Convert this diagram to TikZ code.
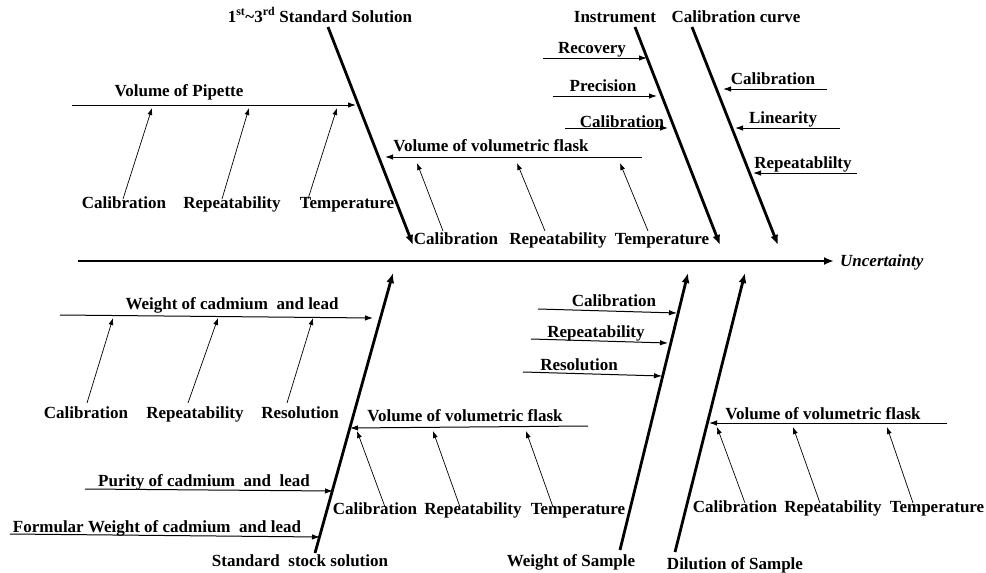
\documentclass[tikz,border=0pt]{standalone}
\usepackage{fontspec}
\setmainfont{Liberation Serif}
\usetikzlibrary{arrows.meta,positioning}
\tikzstyle{bone} = [line width=2.8pt, -{Latex[length=10pt,width=8pt]}]
\tikzstyle{cause} = [line width=1pt, -{Latex[length=8pt,width=5.5pt]}]
\tikzstyle{sub} = [line width=0.7pt, -{Latex[length=7pt,width=5pt]}]
\tikzstyle{lab} = [font=\bfseries\fontsize{17}{19}\selectfont, inner sep=0pt, text height=11.5pt, text depth=1pt]
\tikzstyle{pt} = [coordinate]

\begin{document}
\begin{tikzpicture}[x=1pt, y=-1pt]
  \useasboundingbox (0,0) rectangle (986,573);

  % spine
  \node [pt] (tail) at (78,261) {};
  \node [pt] (head) at (834,261) {};
  \draw [bone] (tail) -- (head);
  \node [lab, font=\bfseries\itshape\fontsize{17}{19}\selectfont, right=6pt of head] (effect) {Uncertainty};

  % main bones, upper side
  \node [lab] (std) at (320,17) {1\textsuperscript{st}\textasciitilde3\textsuperscript{rd} Standard Solution};
  \node [lab] (ins) at (615,17) {Instrument};
  \node [lab] (cc) at (736,17) {Calibration curve};
  \node [pt] (stdA) at (328,27) {};  \node [pt] (stdB) at (413,245) {};
  \node [pt] (insA) at (635,27) {};  \node [pt] (insB) at (720,245) {};
  \node [pt] (ccA) at (692,27) {};   \node [pt] (ccB) at (778,245) {};
  \draw [bone] (stdA) -- (stdB);
  \draw [bone] (insA) -- (insB);
  \draw [bone] (ccA) -- (ccB);

  % main bones, lower side
  \node [lab] (stk) at (300,561) {Standard\ \ stock solution};
  \node [lab] (ws) at (571,561) {Weight of Sample};
  \node [lab] (dil) at (735,564) {Dilution of Sample};
  \node [pt] (stkA) at (315,553) {};  \node [pt] (stkB) at (393,273) {};
  \node [pt] (wsA) at (620,550) {};   \node [pt] (wsB) at (688,273) {};
  \node [pt] (dilA) at (675,552) {};  \node [pt] (dilB) at (745,273) {};
  \draw [bone] (stkA) -- (stkB);
  \draw [bone] (wsA) -- (wsB);
  \draw [bone] (dilA) -- (dilB);

  % volume of pipette
  \node [lab] (pip) at (179,91) {Volume of Pipette};
  \node [pt] (pipA) at (72,105) {};  \node [pt] (pipB) at (356,105) {};
  \draw [cause] (pipA) -- (pipB);
  \node [lab] (pip1) at (124,203) {Calibration};
  \node [lab] (pip2) at (232,203) {Repeatability};
  \node [lab] (pip3) at (347,203) {Temperature};
  \node [pt] (pip1a) at (123,199) {};  \node [pt] (pip1b) at (152,108) {};
  \node [pt] (pip2a) at (222,199) {};  \node [pt] (pip2b) at (249,108) {};
  \node [pt] (pip3a) at (308,199) {};  \node [pt] (pip3b) at (337,108) {};
  \draw [sub] (pip1a) -- (pip1b);
  \draw [sub] (pip2a) -- (pip2b);
  \draw [sub] (pip3a) -- (pip3b);

  % volumetric flask of standard solution
  \node [lab] (fla) at (491,146) {Volume of volumetric flask};
  \node [pt] (flaA) at (642,157) {};  \node [pt] (flaB) at (385,157) {};
  \draw [cause] (flaA) -- (flaB);
  \node [lab] (fla1) at (456,239) {Calibration};
  \node [lab] (fla2) at (558,239) {Repeatability};
  \node [lab] (fla3) at (662,239) {Temperature};
  \node [pt] (fla1a) at (443,231) {};  \node [pt] (fla1b) at (417,163) {};
  \node [pt] (fla2a) at (545,231) {};  \node [pt] (fla2b) at (517,163) {};
  \node [pt] (fla3a) at (648,231) {};  \node [pt] (fla3b) at (620,163) {};
  \draw [sub] (fla1a) -- (fla1b);
  \draw [sub] (fla2a) -- (fla2b);
  \draw [sub] (fla3a) -- (fla3b);

  % instrument
  \node [lab] (rec) at (592,48) {Recovery};
  \node [lab] (pre) at (603,86) {Precision};
  \node [lab] (ical) at (622,122) {Calibration};
  \node [pt] (recA) at (543,58) {};   \node [pt] (recB) at (647,58) {};
  \node [pt] (preA) at (553,96) {};   \node [pt] (preB) at (657,96) {};
  \node [pt] (icalA) at (565,128) {}; \node [pt] (icalB) at (668,128) {};
  \draw [cause] (recA) -- (recB);
  \draw [cause] (preA) -- (preB);
  \draw [cause] (icalA) -- (icalB);

  % calibration curve
  \node [lab] (ccal) at (773,79) {Calibration};
  \node [lab] (lin) at (783,118) {Linearity};
  \node [lab] (crep) at (803,163) {Repeatablilty};
  \node [pt] (ccalA) at (827,89) {};  \node [pt] (ccalB) at (723,89) {};
  \node [pt] (linA) at (840,128) {};  \node [pt] (linB) at (735,128) {};
  \node [pt] (crepA) at (857,173) {}; \node [pt] (crepB) at (753,173) {};
  \draw [cause] (ccalA) -- (ccalB);
  \draw [cause] (linA) -- (linB);
  \draw [cause] (crepA) -- (crepB);

  % weight of cadmium and lead
  \node [lab] (wcl) at (232,304) {Weight of cadmium\ \ and lead};
  \node [pt] (wclA) at (60,315) {};  \node [pt] (wclB) at (373,318) {};
  \draw [cause] (wclA) -- (wclB);
  \node [lab] (wcl1) at (86,413) {Calibration};
  \node [lab] (wcl2) at (195,413) {Repeatability};
  \node [lab] (wcl3) at (300,413) {Resolution};
  \node [pt] (wcl1a) at (87,403) {};   \node [pt] (wcl1b) at (113,318) {};
  \node [pt] (wcl2a) at (188,403) {};  \node [pt] (wcl2b) at (218,318) {};
  \node [pt] (wcl3a) at (287,403) {};  \node [pt] (wcl3b) at (313,318) {};
  \draw [sub] (wcl1a) -- (wcl1b);
  \draw [sub] (wcl2a) -- (wcl2b);
  \draw [sub] (wcl3a) -- (wcl3b);

  % purity and formular weight
  \node [lab] (pur) at (204,481) {Purity of cadmium\ \ and\ \ lead};
  \node [lab] (fw) at (157,527) {Formular Weight of cadmium\ \ and lead};
  \node [pt] (purA) at (85,489) {};  \node [pt] (purB) at (333,491) {};
  \node [pt] (fwA) at (10,534) {};   \node [pt] (fwB) at (320,537) {};
  \draw [cause] (purA) -- (purB);
  \draw [cause] (fwA) -- (fwB);

  % volumetric flask of stock solution
  \node [lab] (sfl) at (465,416) {Volume of volumetric flask};
  \node [pt] (sflA) at (588,426) {};  \node [pt] (sflB) at (350,428) {};
  \draw [cause] (sflA) -- (sflB);
  \node [lab] (sfl1) at (375,509) {Calibration};
  \node [lab] (sfl2) at (473,509) {Repeatability};
  \node [lab] (sfl3) at (578,509) {Temperature};
  \node [pt] (sfl1a) at (385,507) {};  \node [pt] (sfl1b) at (357,431) {};
  \node [pt] (sfl2a) at (460,507) {};  \node [pt] (sfl2b) at (433,431) {};
  \node [pt] (sfl3a) at (553,507) {};  \node [pt] (sfl3b) at (526,431) {};
  \draw [sub] (sfl1a) -- (sfl1b);
  \draw [sub] (sfl2a) -- (sfl2b);
  \draw [sub] (sfl3a) -- (sfl3b);

  % weight of sample
  \node [lab] (wcal) at (614,301) {Calibration};
  \node [lab] (wrep) at (596,332) {Repeatability};
  \node [lab] (wres) at (579,365) {Resolution};
  \node [pt] (wcalA) at (538,309) {};  \node [pt] (wcalB) at (677,313) {};
  \node [pt] (wrepA) at (531,339) {};  \node [pt] (wrepB) at (668,343) {};
  \node [pt] (wresA) at (523,372) {};  \node [pt] (wresB) at (662,376) {};
  \draw [cause] (wcalA) -- (wcalB);
  \draw [cause] (wrepA) -- (wrepB);
  \draw [cause] (wresA) -- (wresB);

  % volumetric flask of dilution
  \node [lab] (dfl) at (823,414) {Volume of volumetric flask};
  \node [pt] (dflA) at (947,423) {};  \node [pt] (dflB) at (709,423) {};
  \draw [cause] (dflA) -- (dflB);
  \node [lab] (dfl1) at (735,507) {Calibration};
  \node [lab] (dfl2) at (833,507) {Repeatability};
  \node [lab] (dfl3) at (937,507) {Temperature};
  \node [pt] (dfl1a) at (745,503) {};  \node [pt] (dfl1b) at (717,427) {};
  \node [pt] (dfl2a) at (820,503) {};  \node [pt] (dfl2b) at (793,427) {};
  \node [pt] (dfl3a) at (913,503) {};  \node [pt] (dfl3b) at (887,427) {};
  \draw [sub] (dfl1a) -- (dfl1b);
  \draw [sub] (dfl2a) -- (dfl2b);
  \draw [sub] (dfl3a) -- (dfl3b);
\end{tikzpicture}
\end{document}
